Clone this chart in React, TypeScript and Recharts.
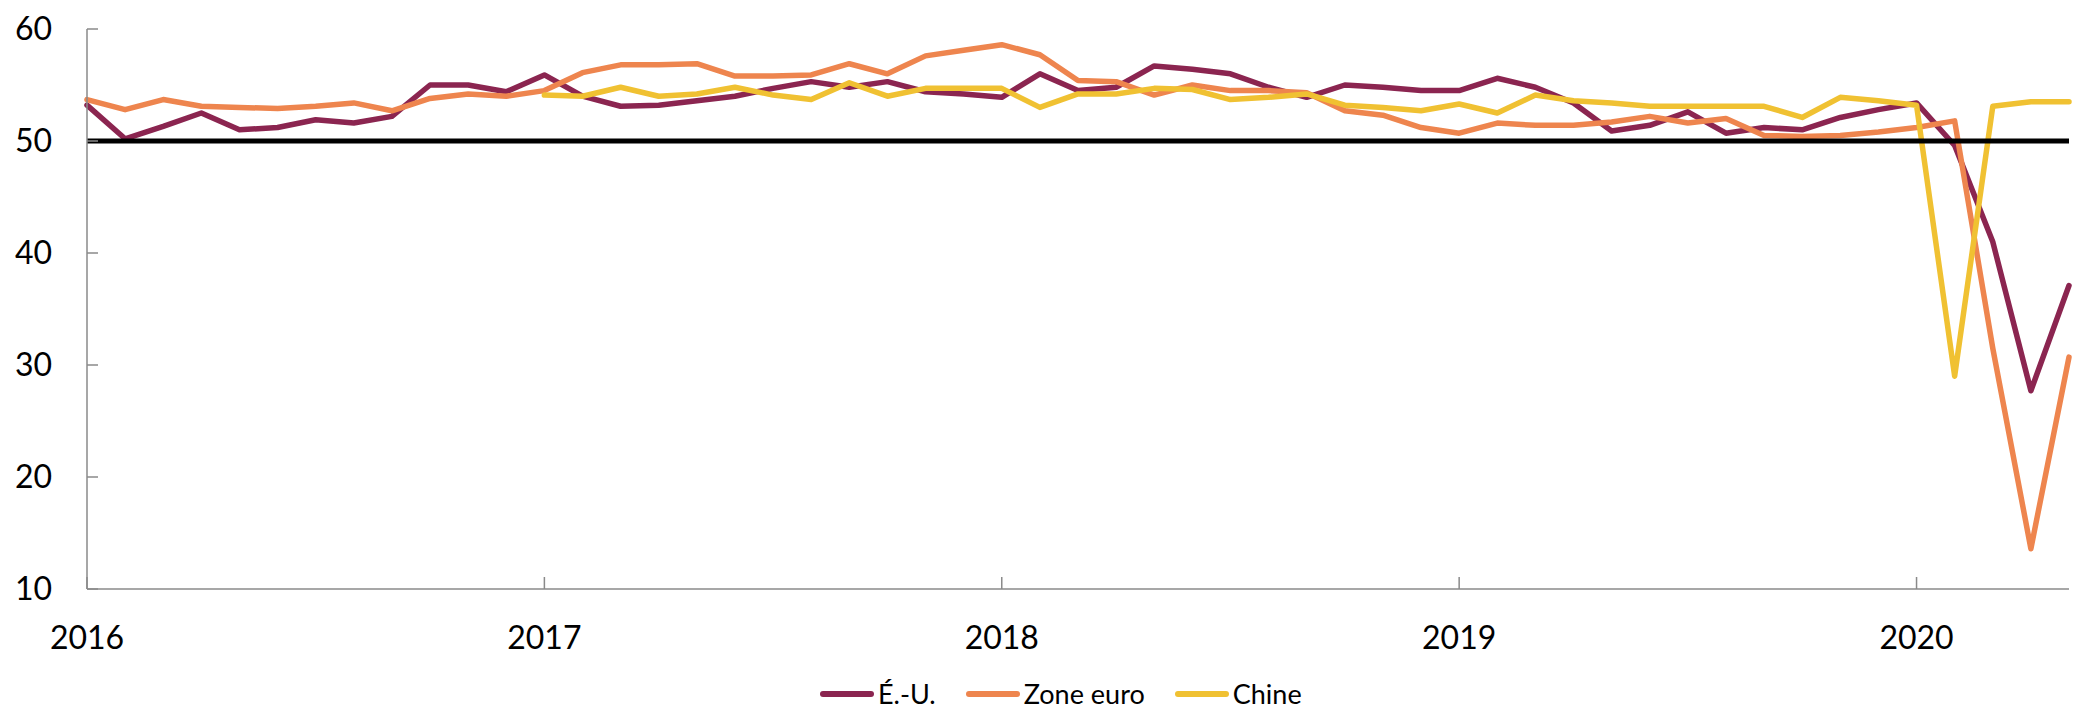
import React from 'react';
import { LineChart, Line, XAxis, YAxis, ReferenceLine } from 'recharts';

// PMI composites, monthly from Jan 2016 to May 2020
const years = ['2016', '2017', '2018', '2019', '2020'];
const yTicks = [10, 20, 30, 40, 50, 60];

const usValues = [
  53.2, 50.2, 51.3, 52.5, 51.0, 51.2, 51.9, 51.6, 52.2, 55.0, 55.0, 54.4,
  55.9, 54.0, 53.1, 53.2, 53.6, 54.0, 54.7, 55.3, 54.8, 55.3, 54.4, 54.2,
  53.9, 56.0, 54.5, 54.8, 56.7, 56.4, 56.0, 54.8, 53.9, 55.0, 54.8, 54.5,
  54.5, 55.6, 54.8, 53.4, 50.9, 51.4, 52.6, 50.7, 51.2, 51.0, 52.1, 52.8,
  53.4, 49.6, 41.0, 27.7, 37.1,
];

const euroValues = [
  53.7, 52.8, 53.7, 53.1, 53.0, 52.9, 53.1, 53.4, 52.7, 53.8, 54.2, 54.0,
  54.5, 56.1, 56.8, 56.8, 56.9, 55.8, 55.8, 55.9, 56.9, 56.0, 57.6, 58.1,
  58.6, 57.7, 55.4, 55.3, 54.1, 55.0, 54.5, 54.5, 54.3, 52.7, 52.3, 51.2,
  50.7, 51.6, 51.4, 51.4, 51.7, 52.2, 51.6, 52.0, 50.5, 50.4, 50.5, 50.8,
  51.2, 51.8, 31.5, 13.6, 30.7,
];

const chinaValues: (number | null)[] = [
  null, null, null, null, null, null, null, null, null, null, null, null,
  54.1, 54.0, 54.8, 54.0, 54.2, 54.8, 54.1, 53.7, 55.2, 54.0, 54.7, 54.7,
  54.7, 53.0, 54.2, 54.2, 54.7, 54.6, 53.7, 53.9, 54.2, 53.2, 53.0, 52.7,
  53.3, 52.5, 54.1, 53.6, 53.4, 53.1, 53.1, 53.1, 53.1, 52.1, 53.9, 53.6,
  53.2, 29.0, 53.1, 53.5, 53.5,
];

const series = [
  { key: 'us', name: 'É.-U.', color: '#8B2550' },
  { key: 'euro', name: 'Zone euro', color: '#EE854E' },
  { key: 'china', name: 'Chine', color: '#F0C132' },
];

const data = usValues.map((v, i) => ({
  t: i,
  us: v,
  euro: euroValues[i],
  china: chinaValues[i],
}));

const yearTicks = years.map((_, i) => i * 12);

const FONT = 'Lato, "Open Sans", sans-serif';
const AXIS = '#8a8a8a';

const YTick = (props: any) => {
  const { x, y, payload } = props;
  return (
    <g>
      <line x1={x} x2={x + 11} y1={y} y2={y} stroke={AXIS} strokeWidth={1.5} />
      <text x={x - 35} y={y} dy={11} textAnchor="end" fontSize={32} fontFamily={FONT} fill="#000">
        {payload.value}
      </text>
    </g>
  );
};

const XTick = (props: any) => {
  const { x, y, payload } = props;
  return (
    <g>
      <line x1={x} x2={x} y1={y} y2={y - 12} stroke={AXIS} strokeWidth={1.5} />
      <text x={x} y={y + 60} textAnchor="middle" fontSize={32} fontFamily={FONT} fill="#000">
        {years[payload.value / 12]}
      </text>
    </g>
  );
};

export default function App() {
  return (
    <div style={{ position: 'absolute', left: 0, top: 0, width: 2073, height: 713, background: '#fff', overflow: 'hidden' }}>
      <LineChart width={2073} height={713} data={data} margin={{ top: 29, right: 4, left: 27, bottom: 0 }}>
        <XAxis
          dataKey="t"
          type="number"
          domain={[0, 52]}
          ticks={yearTicks}
          tick={<XTick />}
          tickLine={false}
          tickSize={0}
          tickMargin={0}
          height={124}
          axisLine={{ stroke: AXIS, strokeWidth: 1.5 }}
          interval={0}
        />
        <YAxis
          type="number"
          domain={[10, 60]}
          ticks={yTicks}
          tick={<YTick />}
          tickLine={false}
          tickSize={0}
          tickMargin={0}
          width={60}
          axisLine={{ stroke: AXIS, strokeWidth: 1.5 }}
          interval={0}
        />
        {series.map((s) => (
          <Line
            key={s.key}
            dataKey={s.key}
            name={s.name}
            stroke={s.color}
            strokeWidth={5.5}
            strokeLinejoin="round"
            strokeLinecap="round"
            dot={false}
            activeDot={false}
            isAnimationActive={false}
          />
        ))}
        <ReferenceLine y={50} stroke="#000" strokeWidth={5} />
      </LineChart>
      <div
        style={{
          position: 'absolute',
          left: 820,
          top: 678,
          height: 32,
          display: 'flex',
          alignItems: 'center',
          fontFamily: FONT,
          fontSize: 27,
          color: '#000',
          lineHeight: '32px',
        }}
      >
        {series.map((s) => (
          <div key={s.key} style={{ display: 'flex', alignItems: 'center', marginRight: 30 }}>
            <span
              style={{ display: 'inline-block', width: 54, height: 6, borderRadius: 3, background: s.color, marginRight: 4 }}
            />
            <span>{s.name}</span>
          </div>
        ))}
      </div>
    </div>
  );
}
